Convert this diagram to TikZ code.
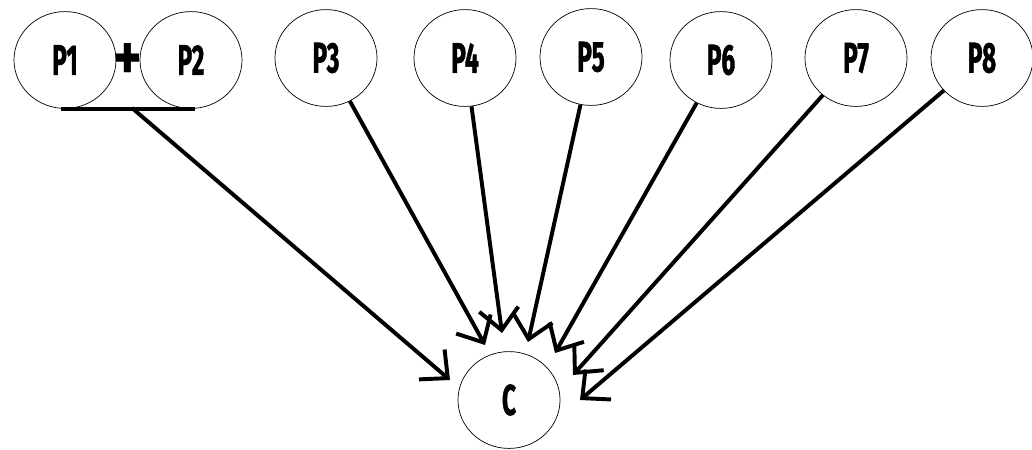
\documentclass[tikz,border=0pt]{standalone}
\usepackage{fontspec}
\setmainfont{Fira Sans}
\newfontfamily\labfont[FakeBold=1.5]{Fira Sans}
\usetikzlibrary{arrows.meta,shapes.geometric}
\newcommand{\plab}[1]{\scalebox{0.6}[1.05]{\labfont\bfseries #1}}
\begin{document}
\begin{tikzpicture}[x=0.025cm,y=-0.025cm,
  pnode/.style={draw,ellipse,line width=0.5pt,minimum width=2.55cm,minimum height=2.42cm,inner sep=0pt,font=\fontsize{29}{29}\selectfont},
  link/.style={line width=2.8pt,-{Straight Barb[length=15pt,width=28pt,line width=2.8pt]}}]
\useasboundingbox (0,0) rectangle (1032,449);
\node[pnode] (p1) at (65,60) {\plab{P1}};
\node[pnode] (p2) at (191,60) {\plab{P2}};
\node[pnode] (p3) at (326,58) {\plab{P3}};
\node[pnode] (p4) at (465,58) {\plab{P4}};
\node[pnode] (p5) at (591,57) {\plab{P5}};
\node[pnode] (p6) at (721,60) {\plab{P6}};
\node[pnode] (p7) at (856,58) {\plab{P7}};
\node[pnode] (p8) at (982,58) {\plab{P8}};
\node[pnode] (c) at (509,400) {\plab{C}};
\node[font=\fontsize{48}{48}\selectfont\bfseries,inner sep=0pt] (plus) at (128,62) {\scalebox{0.8}[1]{+}};
\coordinate (bar) at (132,108);
\coordinate (t1) at (450,380);
\coordinate (t3) at (485,345);
\coordinate (t4) at (502,333);
\coordinate (t5) at (528,342);
\coordinate (t6) at (555,353);
\coordinate (t7) at (573,375);
\coordinate (t8) at (580,400);
\draw[line width=2.8pt] ([xshift=-3pt]p1.south) -- ([xshift=3pt]p2.south);
\draw[link] (bar) -- (t1);
\draw[link] (p3) -- (t3);
\draw[link] (p4) -- (t4);
\draw[link] (p5) -- (t5);
\draw[link] (p6) -- (t6);
\draw[link] (p7) -- (t7);
\draw[link] (p8) -- (t8);
\end{tikzpicture}
\end{document}
